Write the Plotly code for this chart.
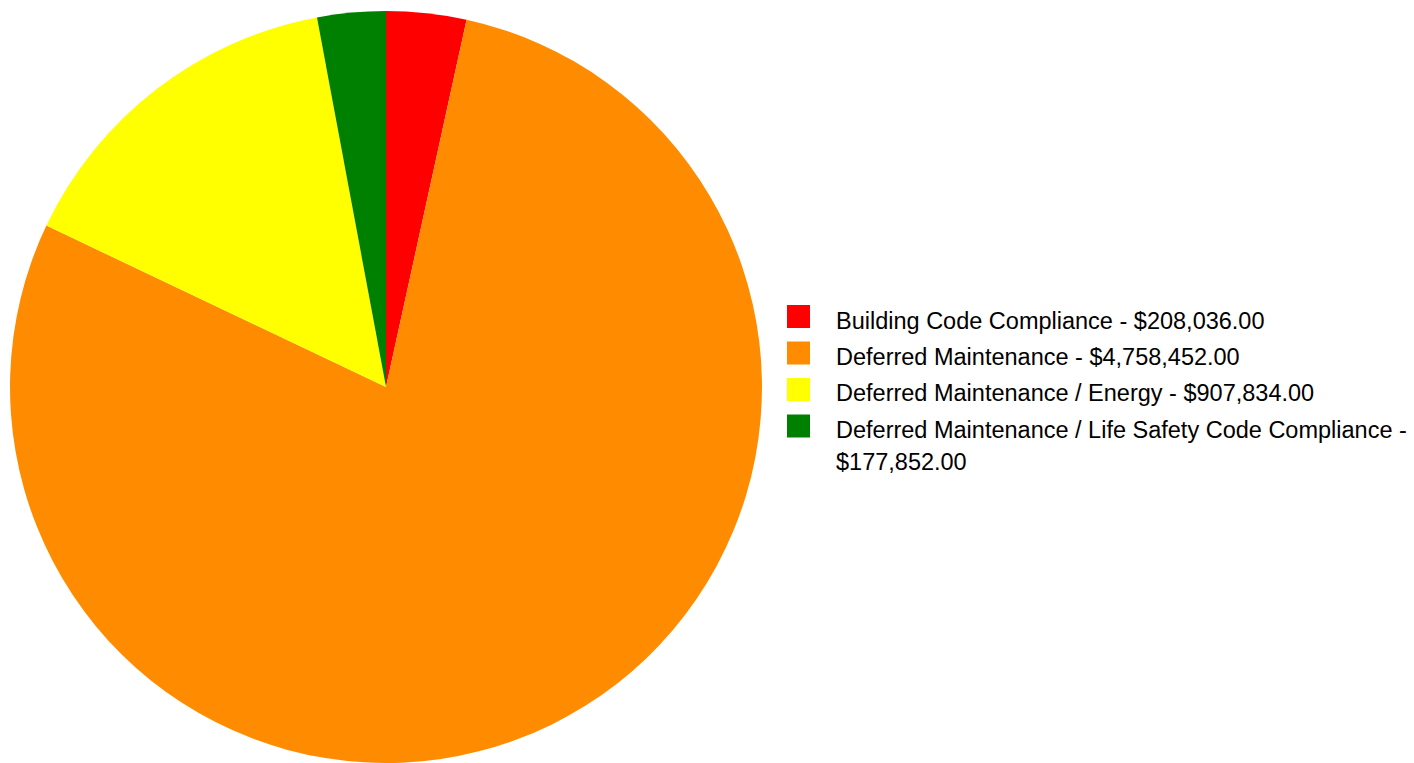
import textwrap
import plotly.graph_objects as go

# Cost breakdown by category
categories = [
    "Building Code Compliance",
    "Deferred Maintenance",
    "Deferred Maintenance / Energy",
    "Deferred Maintenance / Life Safety Code Compliance",
]
amounts = [208036.00, 4758452.00, 907834.00, 177852.00]
colors = ["#FF0000", "#FF8C00", "#FFFF00", "#008000"]

W, H = 1414, 763
FONT = "Liberation Sans"
FSIZE = 23.5

fig = go.Figure(
    go.Pie(
        labels=categories,
        values=amounts,
        marker=dict(colors=colors, line=dict(width=0)),
        sort=False,
        direction="clockwise",
        rotation=0,
        textinfo="none",
        hoverinfo="label+value+percent",
        showlegend=False,
        domain=dict(x=[0, 772 / W], y=[0, 752 / H]),
    )
)

# Legend drawn as colour swatches with wrapped text entries
shapes, annotations = [], []
sw_x0, sw_size = 787, 23
text_x = 834
y_top = 305          # top of first swatch (px from top)
item_gap = 36.5      # distance between consecutive entries
line_gap = 32        # distance between wrapped lines of one entry

y = y_top
for cat, amt, col in zip(categories, amounts, colors):
    label = f"{cat} - ${amt:,.2f}"
    lines = textwrap.wrap(label, width=55)
    shapes.append(dict(
        type="rect", xref="paper", yref="paper",
        x0=sw_x0 / W, x1=(sw_x0 + sw_size) / W,
        y0=1 - (y + sw_size) / H, y1=1 - y / H,
        fillcolor=col, line=dict(width=0),
    ))
    for i, ln in enumerate(lines):
        cy = y + sw_size / 2 + 4 + i * line_gap
        annotations.append(dict(
            text=ln, xref="paper", yref="paper",
            x=text_x / W, y=1 - cy / H,
            xanchor="left", yanchor="middle", showarrow=False,
            font=dict(family=FONT, size=FSIZE, color="#000000"),
        ))
    y += item_gap + (len(lines) - 1) * line_gap

fig.update_layout(
    width=W, height=H,
    margin=dict(l=0, r=0, t=0, b=0),
    paper_bgcolor="white", plot_bgcolor="white",
    shapes=shapes, annotations=annotations,
)

fig.write_html("out.html")
